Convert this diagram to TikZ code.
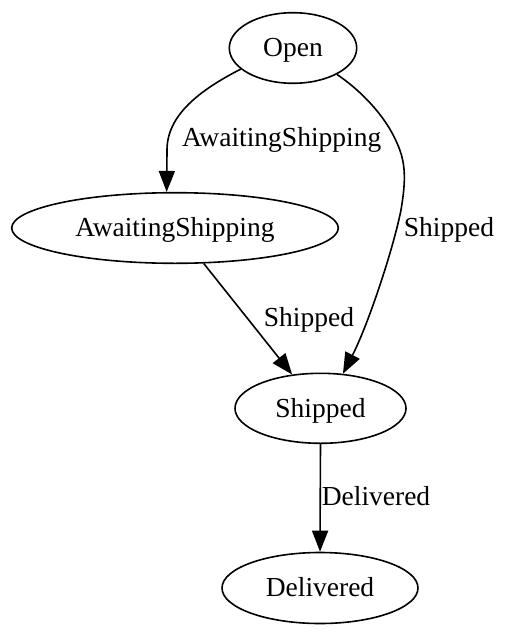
\documentclass[tikz,border=0pt]{standalone}
\usepackage{fontspec}
\setmainfont{Liberation Serif}
\usetikzlibrary{shapes.geometric,arrows.meta}
\tikzset{
  st/.style={ellipse, draw, line width=1.6pt, inner sep=0pt, text height=20pt, text depth=2.6pt,
    font=\fontsize{27.5}{33}\selectfont},
  lbl/.style={inner sep=0pt, text height=20pt, text depth=2.6pt, font=\fontsize{27.5}{33}\selectfont},
  edge/.style={line width=1.6pt, -{Triangle[length=21pt,width=16pt]}}
}
\begin{document}
\begin{tikzpicture}[x=1pt,y=-1pt]
\useasboundingbox (0,0) rectangle (506,640);
\node[st, minimum width=127.4pt, minimum height=70.6pt] (open) at (293,48) {Open};
\node[st, minimum width=326.6pt, minimum height=70.6pt] (await) at (175,228) {AwaitingShipping};
\node[st, minimum width=171pt, minimum height=70pt] (ship) at (320.5,408.3) {Shipped};
\node[st, minimum width=196pt, minimum height=71pt] (deliv) at (320,588) {Delivered};

\draw[edge] (open.202.5) .. controls (200,90) and (167,115) .. (167,150) -- (await.103);
\node[lbl] (l1) at (281.7,138) {AwaitingShipping};

\draw[edge] (open.-31) .. controls (360,90) and (385,115) .. (397,143)
  .. controls (406,163) and (406,180) .. (401,210)
  .. controls (393,250) and (368,325) .. (ship.57);
\node[lbl] (l2) at (449,228) {Shipped};

\draw[edge] (await.-51.2) -- (ship.130);
\node[lbl] (l3) at (309,318) {Shipped};

\draw[edge] (ship.south) -- (deliv.north);
\node[lbl] (l4) at (376,497) {Delivered};
\end{tikzpicture}
\end{document}
